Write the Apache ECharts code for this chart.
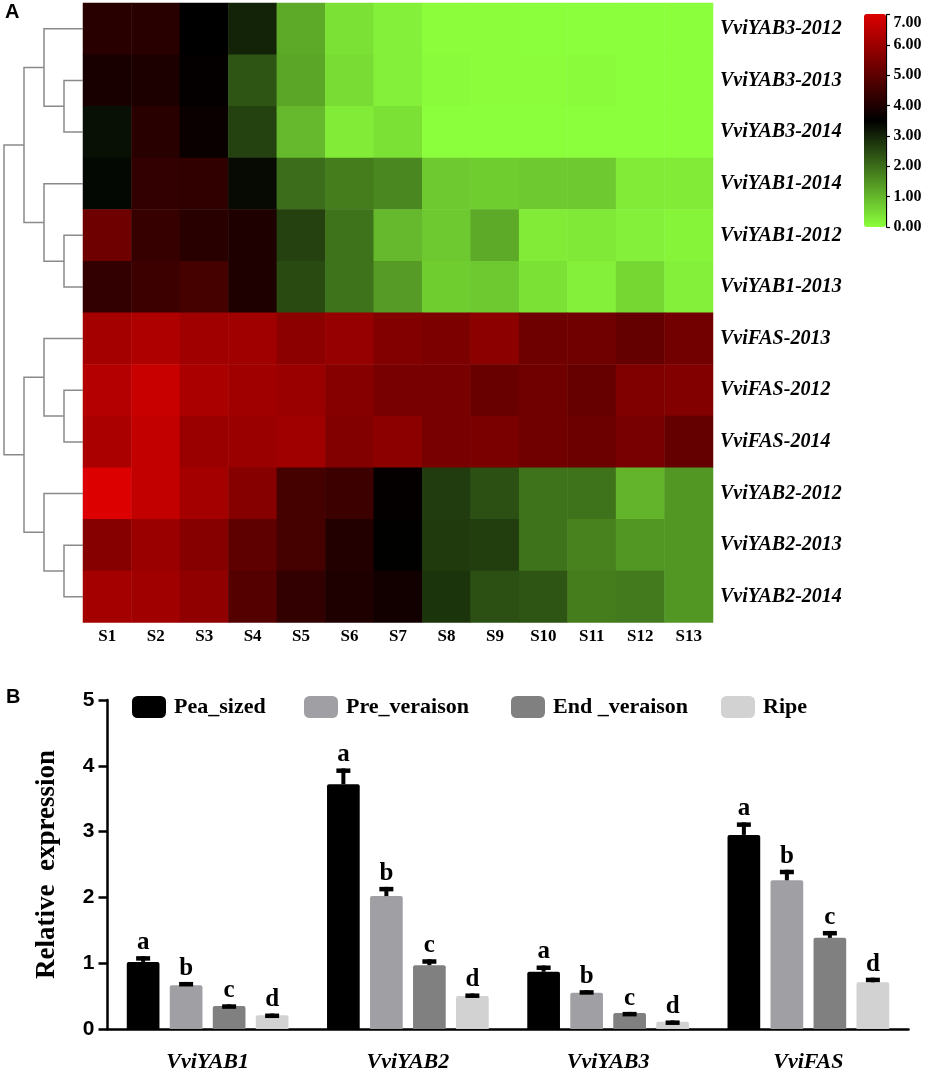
<!DOCTYPE html>
<html>
<head>
<meta charset="utf-8">
<title>VviYAB expression</title>
<script src="https://cdn.jsdelivr.net/npm/echarts@6/dist/echarts.min.js"></script>
<style>
html, body { margin: 0; padding: 0; background: #fff; }
#chart { width: 941px; height: 1070px; }
</style>
</head>
<body>
<div id="chart"></div>
<script>
var samples = ['S1', 'S2', 'S3', 'S4', 'S5', 'S6', 'S7', 'S8', 'S9', 'S10', 'S11', 'S12', 'S13'];
var rows = ['VviYAB3-2012', 'VviYAB3-2013', 'VviYAB3-2014', 'VviYAB1-2014', 'VviYAB1-2012', 'VviYAB1-2013',
    'VviFAS-2013', 'VviFAS-2012', 'VviFAS-2014', 'VviYAB2-2012', 'VviYAB2-2013', 'VviYAB2-2014'];
var heat = [
    [4.14, 4.14, 3.50, 3.02, 1.17, 0.41, 0.20, 0.03, 0.03, 0.00, 0.00, 0.00, 0.00],
    [3.90, 3.95, 3.58, 2.33, 1.23, 0.48, 0.20, 0.05, 0.03, 0.03, 0.05, 0.00, 0.00],
    [3.29, 4.14, 3.66, 2.60, 0.96, 0.27, 0.41, 0.00, 0.00, 0.00, 0.00, 0.00, 0.00],
    [3.39, 4.30, 4.26, 3.36, 2.00, 1.78, 1.65, 0.75, 0.69, 0.75, 0.75, 0.27, 0.27],
    [5.25, 4.38, 4.14, 3.98, 2.61, 1.92, 0.96, 0.75, 1.17, 0.27, 0.30, 0.20, 0.14],
    [4.30, 4.45, 4.60, 3.98, 2.47, 1.92, 1.37, 0.69, 0.75, 0.41, 0.20, 0.55, 0.20],
    [6.12, 6.28, 6.05, 6.05, 5.73, 5.89, 5.57, 5.49, 5.73, 5.25, 5.28, 5.09, 5.33],
    [6.36, 6.68, 6.20, 6.05, 5.97, 5.65, 5.41, 5.41, 5.17, 5.28, 5.12, 5.54, 5.57],
    [6.20, 6.60, 5.97, 5.97, 6.05, 5.57, 5.73, 5.41, 5.44, 5.28, 5.22, 5.41, 5.09],
    [7.00, 6.60, 6.12, 5.65, 4.60, 4.45, 3.58, 2.68, 2.40, 1.92, 1.92, 1.03, 1.44],
    [5.65, 5.97, 5.65, 5.01, 4.60, 4.06, 3.48, 2.70, 2.65, 1.92, 1.72, 1.44, 1.44],
    [6.12, 6.05, 5.81, 4.85, 4.30, 3.98, 3.79, 2.79, 2.40, 2.33, 1.78, 1.83, 1.44]
];
// dendrogram merges: child, child, height. rows are nodes 0-11, merges are nodes 12 up
var merges = [[1, 2, 19], [0, 12, 39], [4, 5, 19], [3, 14, 39], [13, 15, 59], [7, 8, 19],
    [6, 17, 39], [10, 11, 19], [9, 19, 39], [18, 20, 59], [16, 21, 79]];

var genes = ['VviYAB1', 'VviYAB2', 'VviYAB3', 'VviFAS'];
var stages = ['Pea_sized', 'Pre_veraison', 'End _veraison', 'Ripe'];
var stageColors = ['#000000', '#a0a0a4', '#808080', '#d2d2d2'];
var means = [
    [1.02, 3.72, 0.87, 2.95],
    [0.665, 2.02, 0.55, 2.26],
    [0.35, 0.97, 0.245, 1.385],
    [0.21, 0.50, 0.11, 0.71]
];
var errTops = [
    [1.107, 3.96, 0.965, 3.14],
    [0.715, 2.16, 0.59, 2.42],
    [0.375, 1.06, 0.26, 1.49],
    [0.235, 0.54, 0.13, 0.78]
];
var letters = ['a', 'b', 'c', 'd'];

var serif = '"Liberation Serif", serif';
var sans = '"Liberation Sans", sans-serif';

var heatData = [];
heat.forEach(function (r, y) {
    r.forEach(function (v, x) { heatData.push([x, y, v]); });
});

var nodeY = rows.map(function (r, i) { return i + 0.5; });
var nodeH = rows.map(function () { return 0; });
var links = merges.map(function (m) {
    var link = [nodeY[m[0]], nodeY[m[1]], nodeH[m[0]], nodeH[m[1]], m[2]];
    nodeY.push((nodeY[m[0]] + nodeY[m[1]]) / 2);
    nodeH.push(m[2]);
    return link;
});

var series = [{
    type: 'heatmap',
    xAxisIndex: 0,
    yAxisIndex: 0,
    data: heatData,
    silent: true
}, {
    type: 'custom',
    xAxisIndex: 1,
    yAxisIndex: 1,
    silent: true,
    data: links,
    encode: { x: 4, y: 0 },
    renderItem: function (params, api) {
        var h = api.value(4);
        return {
            type: 'polyline',
            shape: {
                points: [
                    api.coord([api.value(2), api.value(0)]),
                    api.coord([h, api.value(0)]),
                    api.coord([h, api.value(1)]),
                    api.coord([api.value(3), api.value(1)])
                ]
            },
            style: { fill: null, stroke: '#8a8a8a', lineWidth: 1.5 }
        };
    }
}];

// share of a category band taken by one bar and by bar + gap
var barShare = 32.7 / 200.25;
var pitchShare = 43 / 200.25;

stages.forEach(function (name, i) {
    series.push({
        name: name,
        type: 'bar',
        xAxisIndex: 3,
        yAxisIndex: 3,
        barWidth: (barShare * 100) + '%',
        barGap: ((pitchShare / barShare - 1) * 100) + '%',
        itemStyle: { color: stageColors[i], borderRadius: [2, 2, 0, 0] },
        data: means[i]
    });
});

stages.forEach(function (name, i) {
    series.push({
        type: 'custom',
        xAxisIndex: 3,
        yAxisIndex: 3,
        z: 3,
        data: genes.map(function (g, k) { return [k, means[i][k], errTops[i][k]]; }),
        encode: { x: 0, y: 2 },
        renderItem: function (params, api) {
            var top = api.coord([api.value(0), api.value(2)]);
            var base = api.coord([api.value(0), api.value(1)]);
            var x = top[0] + (i - 1.5) * api.size([1, 0])[0] * pitchShare;
            return {
                type: 'group',
                children: [{
                    type: 'rect',
                    shape: { x: x - 2, y: top[1], width: 4, height: Math.max(base[1] - top[1], 0) },
                    style: { fill: '#000' }
                }, {
                    type: 'rect',
                    shape: { x: x - 7, y: top[1], width: 14, height: 4.5 },
                    style: { fill: '#000' }
                }, {
                    type: 'text',
                    style: {
                        text: letters[i],
                        x: x,
                        y: top[1] - 1,
                        align: 'center',
                        verticalAlign: 'bottom',
                        font: 'bold 25px ' + serif,
                        fill: '#000'
                    }
                }]
            };
        }
    });
});

var legendLefts = [132, 304, 511, 721];

var option = {
    animation: false,
    backgroundColor: '#fff',
    grid: [
        { left: 83, top: 3, width: 630, height: 619.6, outerBoundsMode: 'none' },
        { left: 0, top: 3, width: 83, height: 619.6, outerBoundsMode: 'none' },
        { left: 886.5, top: 14.5, width: 1, height: 212.5, outerBoundsMode: 'none' },
        { left: 107.5, top: 700, width: 801, height: 329, outerBoundsMode: 'none' }
    ],
    xAxis: [{
        gridIndex: 0,
        type: 'category',
        data: samples,
        axisLine: { show: false },
        axisTick: { show: false },
        axisLabel: { interval: 0, margin: 6, color: '#000', fontFamily: serif, fontWeight: 'bold', fontSize: 17 }
    }, {
        gridIndex: 1,
        type: 'value',
        min: 0,
        max: 83,
        inverse: true,
        show: false
    }, {
        gridIndex: 2,
        type: 'value',
        show: false
    }, {
        gridIndex: 3,
        type: 'category',
        data: genes,
        axisLine: { lineStyle: { color: '#000', width: 2.5 } },
        axisTick: { length: 9, lineStyle: { color: '#000', width: 2.5 } },
        axisLabel: { margin: 22, color: '#000', fontFamily: serif, fontWeight: 'bold', fontStyle: 'italic', fontSize: 22 }
    }],
    yAxis: [{
        gridIndex: 0,
        type: 'category',
        inverse: true,
        position: 'right',
        data: rows,
        axisLine: { show: false },
        axisTick: { show: false },
        axisLabel: { interval: 0, margin: 7, padding: [4, 0, 0, 0], color: '#000', fontFamily: serif, fontWeight: 'bold', fontStyle: 'italic', fontSize: 20 }
    }, {
        gridIndex: 1,
        type: 'value',
        min: 0,
        max: 12,
        inverse: true,
        show: false
    }, {
        gridIndex: 2,
        type: 'value',
        position: 'right',
        min: 0,
        max: 7,
        interval: 1,
        splitLine: { show: false },
        axisLine: { show: true, lineStyle: { color: '#000', width: 1.2 } },
        axisTick: { show: true, length: 3.5, lineStyle: { color: '#000', width: 1.2 } },
        axisLabel: {
            margin: 6,
            color: '#000',
            fontFamily: serif,
            fontWeight: 'bold',
            fontSize: 16,
            verticalAlignMaxLabel: 'top',
            formatter: function (v) { return v.toFixed(2); }
        }
    }, {
        gridIndex: 3,
        type: 'value',
        min: 0,
        max: 5,
        interval: 1,
        name: 'Relative  expression',
        nameLocation: 'middle',
        nameGap: 47,
        nameTextStyle: { color: '#000', fontFamily: serif, fontWeight: 'bold', fontSize: 27 },
        splitLine: { show: false },
        axisLine: { show: true, lineStyle: { color: '#000', width: 2.5 } },
        axisTick: { show: true, length: 9, lineStyle: { color: '#000', width: 2.5 } },
        axisLabel: { margin: 13, color: '#000', fontFamily: sans, fontWeight: 'bold', fontSize: 21 }
    }],
    visualMap: {
        type: 'continuous',
        seriesIndex: 0,
        min: 0,
        max: 7,
        left: 864,
        top: 14,
        padding: 0,
        itemWidth: 22,
        itemHeight: 213,
        text: null,
        calculable: false,
        hoverLink: false,
        inRange: { color: ['#8cff3c', '#000000', '#dc0000'] }
    },
    legend: stages.map(function (name, i) {
        return {
            data: [name],
            left: legendLefts[i],
            top: 696,
            padding: 0,
            itemWidth: 34,
            itemHeight: 22,
            icon: 'roundRect',
            selectedMode: false,
            textStyle: { color: '#000', fontFamily: serif, fontWeight: 'bold', fontSize: 22, padding: [0, 0, 0, 3] }
        };
    }),
    graphic: [{
        type: 'text',
        left: 5,
        top: 2,
        style: { text: 'A', font: 'bold 20px ' + sans, fill: '#000' }
    }, {
        type: 'text',
        left: 6,
        top: 687,
        style: { text: 'B', font: 'bold 20px ' + sans, fill: '#000' }
    }],
    series: series
};

var chart = echarts.init(document.getElementById('chart'));
chart.setOption(option);
</script>
</body>
</html>
